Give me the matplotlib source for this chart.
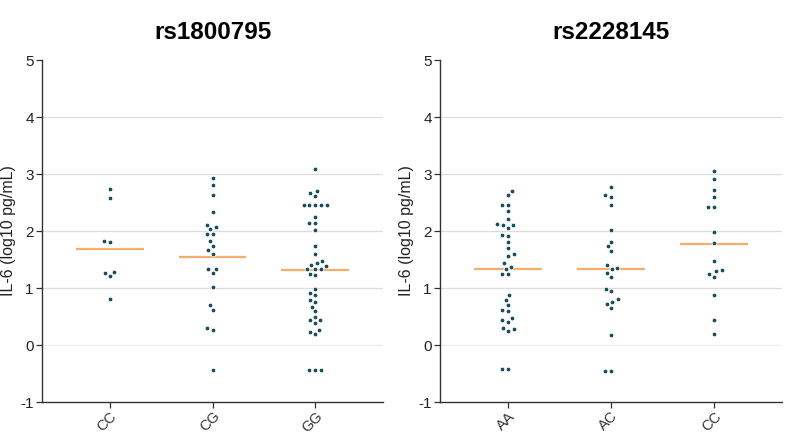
import matplotlib
matplotlib.use("Agg")
import matplotlib.pyplot as plt
import seaborn as sns
import pandas as pd
import numpy as np

plt.rcParams['font.family'] = ['Liberation Sans', 'DejaVu Sans']

# ---- data (log10 pg/mL) ----
left_title = "rs1800795"
left_cats = ["CC", "CG", "GG"]
left_CC = [2.73, 2.58, 1.83, 1.81, 1.28, 1.26, 1.21, 0.80]
left_CG = [2.93, 2.80, 2.63, 2.34, 2.11, 2.07, 2.03, 1.94, 1.94, 1.83, 1.74,
           1.67, 1.60, 1.34, 1.33, 1.26, 1.01, 0.70, 0.61, 0.29, 0.26, -0.43]
left_GG = [3.08, 2.71, 2.67, 2.62, 2.46, 2.46, 2.46, 2.46, 2.46, 2.24, 2.14,
           2.14, 2.02, 1.74, 1.60, 1.48, 1.44, 1.41, 1.38, 1.34, 1.34, 1.34,
           1.25, 1.23, 0.98, 0.91, 0.88, 0.79, 0.75, 0.67, 0.59, 0.49, 0.44,
           0.43, 0.39, 0.27, 0.23, 0.19, -0.43, -0.43, -0.43]
left_means = [1.69, 1.54, 1.32]

right_title = "rs2228145"
right_cats = ["AA", "AC", "CC"]
right_AA = [2.70, 2.63, 2.46, 2.46, 2.35, 2.21, 2.12, 2.10, 2.10, 2.05, 1.93,
            1.91, 1.81, 1.71, 1.60, 1.57, 1.43, 1.37, 1.34, 1.25, 1.25, 0.87,
            0.79, 0.70, 0.61, 0.59, 0.48, 0.43, 0.41, 0.29, 0.28, 0.25,
            -0.42, -0.42]
right_AC = [2.78, 2.63, 2.60, 2.45, 2.02, 1.81, 1.73, 1.65, 1.40, 1.35, 1.33,
            1.27, 1.20, 0.99, 0.95, 0.80, 0.76, 0.72, 0.65, 0.17, -0.45, -0.45]
right_CC = [3.05, 2.91, 2.72, 2.59, 2.42, 2.42, 1.99, 1.79, 1.47, 1.32, 1.29,
            1.24, 1.20, 0.88, 0.44, 0.20]
right_means = [1.34, 1.33, 1.77]

y_label = "IL-6 (log10 pg/mL)"
y_ticks = [-1, 0, 1, 2, 3, 4, 5]

dot_color = "#1b4d5a"
mean_color = "#f4ae6a"

fig = plt.figure(figsize=(7.88, 4.36), dpi=100)
ax_l = fig.add_axes([42/788, 34/436, 341/788, 342/436])
ax_r = fig.add_axes([440/788, 34/436, 342/788, 342/436])


def panel(ax, title, cats, groups, means):
    df = pd.DataFrame({
        "g": sum([[c] * len(v) for c, v in zip(cats, groups)], []),
        "v": sum([list(v) for v in groups], []),
    })
    ax.set_xlim(-0.66, 2.66)
    ax.set_ylim(-1, 5)
    for yv in range(0, 5):
        ax.axhline(yv, color="#eeeeee" if yv == 0 else "#dcdcdc", lw=0.9, zorder=0)
    for i, m in enumerate(means):
        ax.hlines(m, i - 0.33, i + 0.33, color=mean_color, lw=1.6, zorder=2)
    sns.swarmplot(data=df, x="g", y="v", order=cats, ax=ax, color=dot_color,
                  size=3.4, linewidth=0.6, edgecolor="white", zorder=3)
    ax.set_xlim(-0.66, 2.66)
    ax.set_ylim(-1, 5)
    ax.set_xlabel("")
    ax.set_ylabel(y_label, fontsize=11.5, color="#222222", labelpad=3)
    ax.set_yticks(y_ticks)
    ax.set_yticklabels([str(t) for t in y_ticks], fontsize=11, color="#222222")
    ax.set_xticks(range(len(cats)))
    ax.set_xticklabels(cats, rotation=45, ha="right", rotation_mode="anchor",
                       fontsize=10.5, color="#333333")
    ax.tick_params(axis="y", direction="out", length=4, width=0.9,
                   color="#333333", pad=2)
    ax.tick_params(axis="x", direction="out", length=4, width=0.9,
                   color="#333333", pad=1)
    for s in ["top", "right"]:
        ax.spines[s].set_visible(False)
    for s in ["left", "bottom"]:
        ax.spines[s].set_color("#333333")
        ax.spines[s].set_linewidth(1.0)
    ax.set_title(title, fontsize=17.5, fontweight="bold", pad=15)
    ax.set_facecolor("white")


panel(ax_l, left_title, left_cats, [left_CC, left_CG, left_GG], left_means)
panel(ax_r, right_title, right_cats, [right_AA, right_AC, right_CC], right_means)

fig.savefig("out.png", dpi=100)
